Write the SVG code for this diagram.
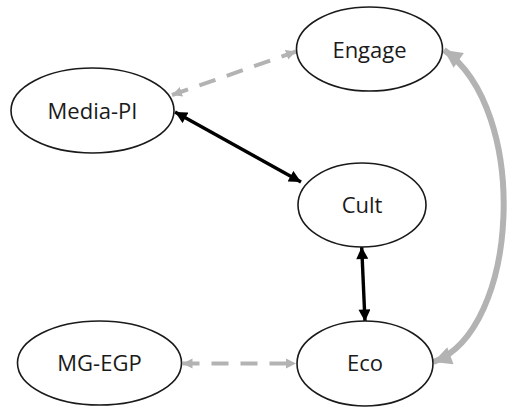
<svg xmlns="http://www.w3.org/2000/svg" width="508" height="407" viewBox="0 0 508 407">
<style>
.node ellipse{fill:#fff;stroke:#1a1a1a;stroke-width:1.6}
.node text{font-family:"Open Sans","Liberation Sans",sans-serif;font-size:22px;fill:#1a1a1a;text-anchor:middle}
.dash{stroke:#b3b3b3;stroke-width:4;stroke-dasharray:17 12;fill:none}
.solid{stroke:#000;stroke-width:3.4;fill:none}
.curve{stroke:#b3b3b3;stroke-width:6;fill:none}
</style>
<defs>
<marker id="ag" viewBox="0 0 10 10" refX="10" refY="5" markerWidth="10" markerHeight="11" markerUnits="userSpaceOnUse" orient="auto-start-reverse"><path d="M0,0 L10,5 L0,10 z" fill="#b3b3b3"/></marker>
<marker id="ab" viewBox="0 0 10 10" refX="10" refY="5" markerWidth="13" markerHeight="12" markerUnits="userSpaceOnUse" orient="auto-start-reverse"><path d="M0,0 L10,5 L0,10 z" fill="#000"/></marker>
<marker id="ac" viewBox="0 0 10 10" refX="10" refY="5" markerWidth="19" markerHeight="18" markerUnits="userSpaceOnUse" orient="auto-start-reverse"><path d="M0,0 L10,5 L0,10 z" fill="#b3b3b3"/></marker>
</defs>
<rect width="508" height="407" fill="#fff"/>
<g id="connectors">
<line class="dash" x1="172" y1="95" x2="296" y2="51.5" marker-start="url(#ag)" marker-end="url(#ag)"/>
<line class="solid" x1="175" y1="112" x2="301" y2="182" marker-start="url(#ab)" marker-end="url(#ab)"/>
<line class="solid" x1="361.7" y1="247" x2="365" y2="321.5" marker-start="url(#ab)" marker-end="url(#ab)"/>
<line class="dash" x1="182.5" y1="363.5" x2="296" y2="363.5" marker-start="url(#ag)" marker-end="url(#ag)"/>
<path class="curve" d="M433.5,362 C520,330 530,110 444,50" marker-start="url(#ac)" marker-end="url(#ac)"/>
</g>
<g id="media-pi" class="node"><ellipse cx="92.5" cy="110.5" rx="81.5" ry="42.5"/><text x="92.5" y="119">Media-PI</text></g>
<g id="engage" class="node"><ellipse cx="369.5" cy="49" rx="73" ry="42"/><text x="369.5" y="57.5">Engage</text></g>
<g id="cult" class="node"><ellipse cx="362" cy="205" rx="64" ry="42"/><text x="362" y="213">Cult</text></g>
<g id="eco" class="node"><ellipse cx="365" cy="363.5" rx="68" ry="42.5"/><text x="365" y="371">Eco</text></g>
<g id="mg-egp" class="node"><ellipse cx="99.5" cy="363" rx="82" ry="42"/><text x="99.5" y="371">MG-EGP</text></g>
</svg>
